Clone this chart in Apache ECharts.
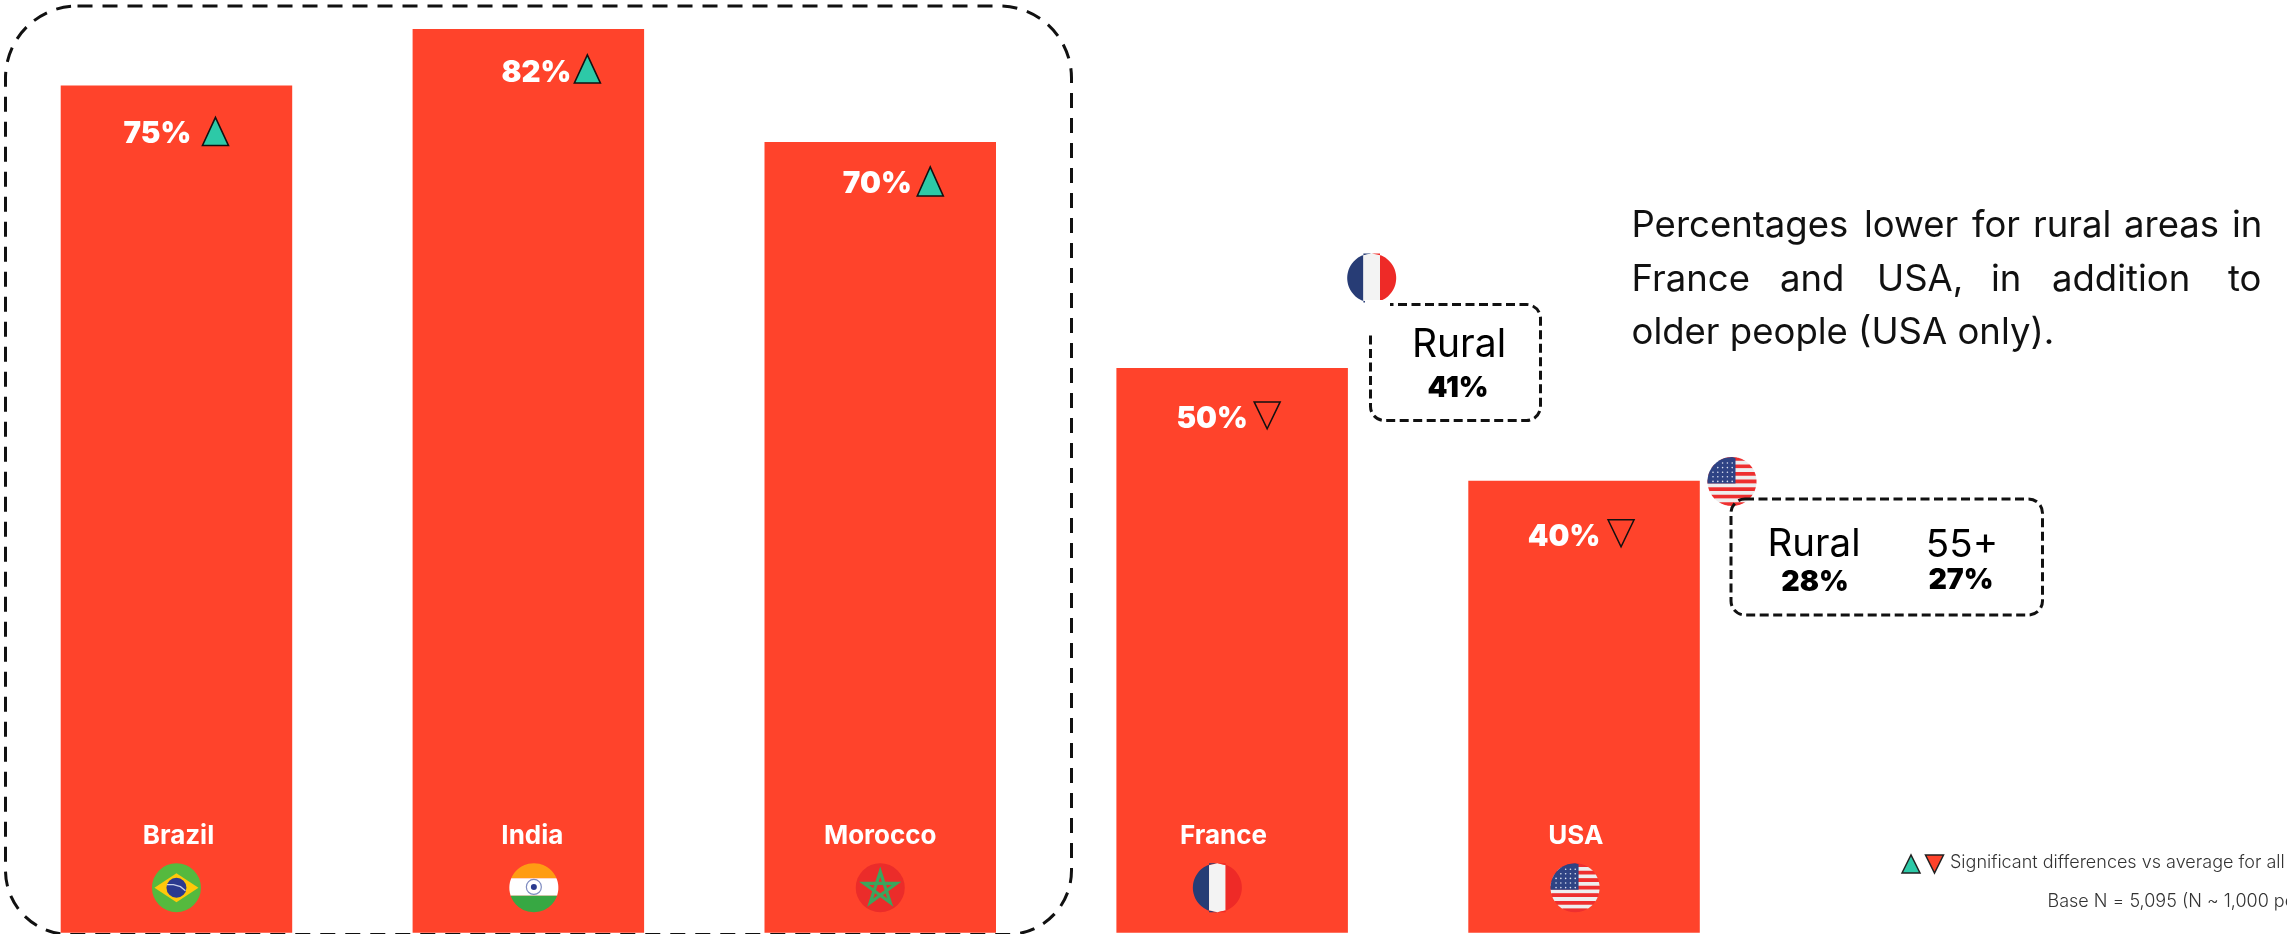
<!DOCTYPE html>
<html>
<head>
<meta charset="utf-8">
<style>html,body{margin:0;padding:0;background:#fff;overflow:hidden}#chart{width:2287px;height:934px}</style>
<script src="https://cdn.jsdelivr.net/npm/echarts@6/dist/echarts.min.js"></script>
</head>
<body>
<div id="chart"></div>
<script>
// ---- data ----
const categories = ['Brazil', 'India', 'Morocco', 'France', 'USA'];
// drawn bar heights as they appear (the India bar is drawn at about 80 on the scale the others share)
const barValues = [75, 80, 70, 50, 40];
const percentLabels = ['75%', '82%', '70%', '50%', '40%'];
const significance = ['up', 'up', 'up', 'down', 'down'];
const franceCalloutLabels = ['Rural'];
const franceCalloutValues = ['41%'];
const usaCalloutLabels = ['Rural', '55+'];
const usaCalloutValues = ['28%', '27%'];
const noteLine1 = ['Percentages', 'lower', 'for', 'rural', 'areas', 'in'];
const noteLine2 = ['France', 'and', 'USA,', 'in', 'addition', 'to'];
const noteLine3 = 'older people (USA only).';
const legendText = 'Significant differences vs average for all';
const baseText = 'Base N = 5,095 (N ~ 1,000 pe';

// ---- layout (offsets relative to each bar) ----
const FONT = 'Inter, "Noto Sans", sans-serif';
const BAR = '#FF432B', TEAL = '#2DC9A7', INK = '#111';
const annot = [
  {pctX: -19, pctDy: 49, triX: 39, triTop: 32, triH: 28, labelX: 2, flagX: 0},
  {pctX: 8, pctDy: 44, triX: 59, triTop: 26, triH: 28, labelX: 4, flagX: 5.5},
  {pctX: -3, pctDy: 42, triX: 50, triTop: 25, triH: 29, labelX: 0, flagX: 0},
  {pctX: -20, pctDy: 51, triX: 35, triTop: 34, triH: 27, labelX: -8.6, flagX: -14.8},
  {pctX: -20, pctDy: 56, triX: 37, triTop: 39, triH: 27, labelX: -8.3, flagX: -9}
];

function region(cx, cy, r, x1, x2, y1, y2, fill) {
  const top = Math.max(y1, cy - r), bot = Math.min(y2, cy + r), L = [], R = [], n = 24;
  for (let i = 0; i <= n; i++) {
    const y = top + (bot - top) * i / n, w = Math.sqrt(Math.max(0, r * r - (y - cy) * (y - cy)));
    L.push([Math.max(x1, cx - w), y]);
    R.unshift([Math.min(x2, cx + w), y]);
  }
  return {type: 'polygon', shape: {points: L.concat(R)}, style: {fill: fill}, silent: true};
}
function disc(cx, cy, r, fill, stroke, lw) {
  return {type: 'circle', shape: {cx: cx, cy: cy, r: r}, style: {fill: fill, stroke: stroke, lineWidth: lw || 0}, silent: true};
}
function flag(name, cx, cy) {
  const r = 24.5, inf = 1e4, out = [];
  if (name === 'Brazil') {
    out.push(disc(cx, cy, r, '#55B93E'));
    out.push({type: 'polygon', shape: {points: [[cx - 22, cy], [cx, cy - 14.5], [cx + 22, cy], [cx, cy + 14.5]]}, style: {fill: '#FFC80A'}});
    out.push(disc(cx, cy, 10, '#2B3A8F'));
    out.push({type: 'polyline', shape: {points: [[cx - 9.5, cy - 3], [cx - 3, cy - 3], [cx + 4, cy - 1], [cx + 9, cy + 3]]}, style: {stroke: '#C8CFE8', lineWidth: 1.3, fill: null}});
  } else if (name === 'India') {
    out.push(region(cx, cy, r, -inf, inf, -inf, cy - 9.5, '#FF9C13'));
    out.push(region(cx, cy, r, -inf, inf, cy - 9.5, cy + 8, '#FFFFFF'));
    out.push(region(cx, cy, r, -inf, inf, cy + 8, inf, '#37A843'));
    out.push(disc(cx, cy - 0.8, 7.5, '#FFFFFF', '#7F8CC0', 1.2));
    out.push(disc(cx, cy - 0.8, 3, '#2B3A8F'));
  } else if (name === 'Morocco') {
    out.push(disc(cx, cy, r, '#EB2C2A'));
    const pts = [];
    for (let k = 0; k < 5; k++) {
      const a = -Math.PI / 2 + k * 2 * 2 * Math.PI / 5;
      pts.push([cx + 17 * Math.cos(a), cy + 1 + 17 * Math.sin(a)]);
    }
    out.push({type: 'polygon', shape: {points: pts}, style: {fill: null, stroke: '#3BA55D', lineWidth: 3.2}});
  } else if (name === 'France') {
    out.push(region(cx, cy, r, -inf, cx - 8.3, -inf, inf, '#273C75'));
    out.push(region(cx, cy, r, cx - 8.3, cx + 8.3, -inf, inf, '#F3F3F3'));
    out.push(region(cx, cy, r, cx + 8.3, inf, -inf, inf, '#EE2A27'));
  } else if (name === 'USA') {
    const s = 2 * r / 13;
    for (let k = 0; k < 13; k++) {
      out.push(region(cx, cy, r, -inf, inf, cy - r + k * s, cy - r + (k + 1) * s + 0.3, k % 2 ? '#EEEEEE' : '#EE2F2F'));
    }
    out.push(region(cx, cy, r, -inf, cx + 3.5, -inf, cy + 2, '#2E4384'));
    for (let row = 0; row < 5; row++) {
      for (let col = 0; col < 5; col++) {
        const px = cx - 19 + col * 4.8, py = cy - 18.5 + row * 4.6;
        if (Math.hypot(px - cx, py - cy) < r - 2) out.push(disc(px, py, 0.8, '#DDE2F2'));
      }
    }
  }
  return out;
}

function renderAnnotations(params, api) {
  const i = api.value(0), a = annot[i];
  const top = api.coord([i, api.value(1)]), base = api.coord([i, 0]);
  const cx = top[0], y = top[1];
  const up = significance[i] === 'up';
  const x0 = cx + a.triX - 13, x1 = cx + a.triX + 13;
  const t0 = y + a.triTop, t1 = t0 + a.triH;
  const tri = up ? [[x0, t1], [cx + a.triX, t0], [x1, t1]] : [[x0, t0], [x1, t0], [cx + a.triX, t1]];
  return {
    type: 'group',
    children: [
      {type: 'text', style: {text: percentLabels[i], x: cx + a.pctX, y: y + a.pctDy, align: 'center', verticalAlign: 'middle', fill: '#fff', font: '900 29.5px ' + FONT}},
      {type: 'polygon', shape: {points: tri}, style: {fill: up ? TEAL : null, stroke: INK, lineWidth: up ? 1.6 : 1.5}},
      {type: 'text', style: {text: categories[i], x: cx + a.labelX, y: base[1] - 96.5, align: 'center', verticalAlign: 'middle', fill: '#fff', font: '700 26px ' + FONT}}
    ].concat(flag(categories[i], cx + a.flagX, base[1] - 45))
  };
}

function txt(text, x, y, font, align, fill) {
  return {type: 'text', z: 100, style: {text: text, x: x, y: y, font: font, align: align || 'center', verticalAlign: 'middle', fill: fill || '#000'}};
}
function box(x, y, w, h, r, dash, lw, z) {
  return {type: 'rect', z: z, shape: {x: x, y: y, width: w, height: h, r: r}, style: {fill: null, stroke: '#111', lineWidth: lw, lineDash: dash}};
}
function words(list, xs, y) {
  return list.map((w, k) => txt(w, xs[k], y, '400 36.5px ' + FONT, 'left', '#111'));
}

const graphics = [
  box(5.5, 6, 1066, 928.5, [72, 72, 64, 64], [15, 10], 3, -1),
  box(1370.5, 304.5, 170, 116, 14, [9, 4.5], 3, 99),
  {type: 'rect', z: 99.5, shape: {x: 1365, y: 300, width: 25, height: 33}, style: {fill: '#fff'}},
  {type: 'group', z: 100, children: flag('France', 1371.7, 278)},
  txt(franceCalloutLabels[0], 1459, 345, '400 39px ' + FONT),
  txt(franceCalloutValues[0], 1458, 388, '900 28.5px ' + FONT),
  {type: 'group', z: 100, children: flag('USA', 1732, 481.5)},
  box(1731, 499, 311.5, 116, 14, [9, 4.5], 3, 101),
  txt(usaCalloutLabels[0], 1814, 544, '400 38.5px ' + FONT),
  txt(usaCalloutLabels[1], 1962, 545.5, '400 38.5px ' + FONT),
  txt(usaCalloutValues[0], 1815, 582.5, '900 28.5px ' + FONT),
  txt(usaCalloutValues[1], 1961, 580, '900 28.5px ' + FONT),
  ...words(noteLine1, [1631.5, 1864, 1972, 2033, 2124, 2232], 226),
  ...words(noteLine2, [1631.5, 1780, 1877, 1991, 2052, 2228], 280),
  txt(noteLine3, 1631.5, 333, '400 36.5px ' + FONT, 'left', '#111'),
  {type: 'polygon', z: 100, shape: {points: [[1902, 873], [1911, 855], [1920, 873]]}, style: {fill: TEAL, stroke: '#222', lineWidth: 1.5}},
  {type: 'polygon', z: 100, shape: {points: [[1925.5, 855], [1943.5, 855], [1934.5, 873]]}, style: {fill: BAR, stroke: '#222', lineWidth: 1.5}},
  txt(legendText, 1950, 863, '300 18px ' + FONT, 'left', '#333'),
  txt(baseText, 2047.5, 901.5, '300 18px ' + FONT, 'left', '#333')
];

const chart = echarts.init(document.getElementById('chart'), null, {renderer: 'canvas'});
chart.setOption({
  animation: false,
  backgroundColor: '#fff',
  grid: {left: 0.5, width: 1759.5, top: 29, height: 903.7, containLabel: false},
  xAxis: {type: 'category', data: categories, show: false},
  yAxis: {type: 'value', min: 0, max: 80, show: false},
  series: [
    {type: 'bar', data: barValues, barWidth: 231.5, itemStyle: {color: BAR}, silent: true, z: 2},
    {type: 'custom', data: barValues.map((v, i) => [i, v]), renderItem: renderAnnotations, encode: {x: 0, y: 1}, clip: false, silent: true, z: 5}
  ],
  graphic: {elements: graphics}
});
</script>
</body>
</html>
